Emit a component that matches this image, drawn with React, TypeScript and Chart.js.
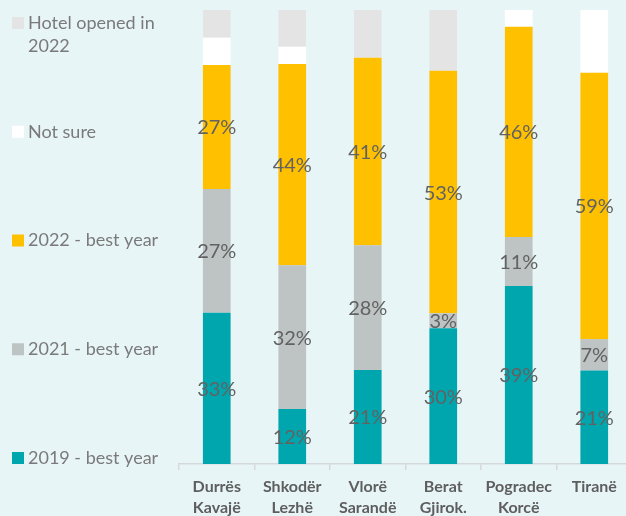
import React, { useEffect, useRef } from "react";
import { Chart, registerables } from "chart.js";

Chart.register(...registerables);

const categories: (string | string[])[] = [
  ["Durrës", "Kavajë"],
  ["Shkodër", "Lezhë"],
  ["Vlorë", "Sarandë"],
  ["Berat", "Gjirok."],
  ["Pogradec", "Korcë"],
  "Tiranë",
];

const best2019 = [33.3, 12.1, 20.7, 29.9, 39.2, 20.6];
const best2021 = [27.3, 31.7, 27.5, 3.3, 10.8, 6.9];
const best2022 = [27.3, 44.3, 41.3, 53.4, 46.3, 58.7];
const notSure = [6.0, 3.8, 0, 0, 3.7, 13.8];
const opened2022 = [6.1, 8.1, 10.5, 13.4, 0, 0];

const seriesLabels = [
  "2019 - best year",
  "2021 - best year",
  "2022 - best year",
  "Not sure",
  "Hotel opened in 2022",
];
const seriesColors = ["#00A6AE", "#BEC3C4", "#FFC000", "#FFFFFF", "#E4E4E4"];
const labelledSeries = [0, 1, 2];

const FONT = "Lato, 'Open Sans', sans-serif";

const dataLabelPlugin = {
  id: "dataLabels",
  afterDatasetsDraw(chart: any) {
    const ctx = chart.ctx;
    ctx.save();
    ctx.font = `20px ${FONT}`;
    ctx.fillStyle = "#626262";
    ctx.textAlign = "center";
    ctx.textBaseline = "middle";
    labelledSeries.forEach((di) => {
      const meta = chart.getDatasetMeta(di);
      meta.data.forEach((el: any, i: number) => {
        const v = chart.data.datasets[di].data[i] as number;
        if (!v) return;
        const p = el.getProps(["x", "y", "base"], true);
        ctx.fillText(Math.round(v) + "%", p.x, (p.y + p.base) / 2 + 1);
      });
    });
    ctx.restore();
  },
};

const sideLegendPlugin = {
  id: "sideLegend",
  afterDraw(chart: any) {
    const ctx = chart.ctx;
    const area = chart.chartArea;
    const ds = chart.data.datasets;
    const n = ds.length;
    const firstY = area.top + 13;
    const lastY = area.bottom - 6;
    const step = (lastY - firstY) / (n - 1);
    ctx.save();
    ctx.font = `18px ${FONT}`;
    ctx.textBaseline = "middle";
    ctx.textAlign = "left";
    const maxW = 150;
    for (let k = 0; k < n; k++) {
      const d = ds[n - 1 - k];
      const cy = firstY + k * step;
      ctx.fillStyle = d.backgroundColor;
      ctx.fillRect(12, cy - 6, 12, 12);
      const words = String(d.label).split(" ");
      const lines: string[] = [];
      let cur = "";
      words.forEach((w) => {
        const t = cur ? cur + " " + w : w;
        if (ctx.measureText(t).width > maxW && cur) {
          lines.push(cur);
          cur = w;
        } else cur = t;
      });
      if (cur) lines.push(cur);
      ctx.fillStyle = "#7A7A7A";
      lines.forEach((ln, li) => {
        ctx.fillText(ln, 28, cy + li * 23.5);
      });
    }
    ctx.restore();
  },
};

export default function App() {
  const ref = useRef<HTMLCanvasElement>(null);
  useEffect(() => {
    if (!ref.current) return;
    const values = [best2019, best2021, best2022, notSure, opened2022];
    const chart = new Chart(ref.current, {
      type: "bar",
      data: {
        labels: categories,
        datasets: values.map((v, i) => ({
          label: seriesLabels[i],
          data: v,
          backgroundColor: seriesColors[i],
          borderWidth: 0,
          barPercentage: 0.367,
          categoryPercentage: 1,
        })),
      },
      options: {
        animation: false,
        responsive: false,
        devicePixelRatio: 1,
        layout: { padding: { left: 179, right: 8, top: 10, bottom: 0 } },
        plugins: {
          legend: { display: false },
          tooltip: { enabled: false },
        },
        scales: {
          x: {
            stacked: true,
            offset: true,
            grid: {
              display: true,
              drawOnChartArea: false,
              drawTicks: true,
              tickLength: 6,
              color: "#D6D9DA",
              lineWidth: 1.5,
            },
            border: { display: true, color: "#D6D9DA", width: 1.5 },
            ticks: {
              color: "#5E5E5E",
              padding: 7,
              font: { family: FONT, size: 16, weight: "bold", lineHeight: 1.28 },
              maxRotation: 0,
              autoSkip: false,
            },
            afterFit: (scale: any) => {
              scale.height = 76;
            },
          },
          y: {
            stacked: true,
            display: false,
            min: 0,
            max: 100,
          },
        },
      },
      plugins: [dataLabelPlugin, sideLegendPlugin],
    });
    return () => chart.destroy();
  }, []);

  return (
    <div
      style={{
        position: "absolute",
        left: 0,
        top: 0,
        width: 626,
        height: 516,
        overflow: "hidden",
        background: "#E8F5F7",
      }}
    >
      <canvas ref={ref} width={640} height={540} style={{ display: "block" }} />
    </div>
  );
}
